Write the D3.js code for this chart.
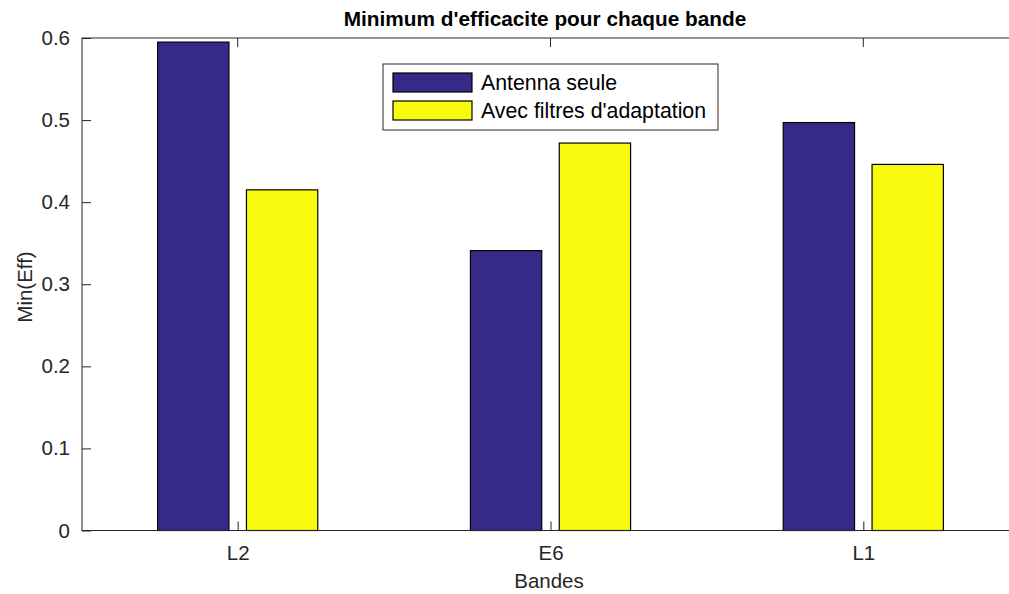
<!DOCTYPE html>
<html><head><meta charset="utf-8">
<script src="https://cdn.jsdelivr.net/npm/d3@7"></script>
<style>body{margin:0;background:#fff;}svg{display:block;font-family:"Liberation Sans",Arial,sans-serif;}</style>
</head><body>
<svg id="c" width="1009" height="594"></svg>
<script>
const categories = ["L2", "E6", "L1"];
const seriesNames = ["Antenna seule", "Avec filtres d'adaptation"];
const antennaSeule = [0.595, 0.341, 0.497];
const avecFiltres = [0.415, 0.472, 0.446];
const yTicks = [0, 0.1, 0.2, 0.3, 0.4, 0.5, 0.6];
const colors = ["#352a87", "#f9fb0e"];

const svg = d3.select("#c");
const L = 82, T = 38, B = 530.5;
const x = d3.scaleLinear().domain([0.5, 3.5]).range([81.3, 1019.7]);
const y = d3.scaleLinear().domain([0, 0.6]).range([B, T]);
const R = x(3.5);
const bw = 0.228, off = 0.142;
const series = [antennaSeule, avecFiltres];
const FF = "Liberation Sans, Arial, sans-serif";

const g = svg.append("g");
series.forEach((vals, si) => {
  g.selectAll(null).data(vals).enter().append("rect")
    .attr("x", (d, i) => x(i + 1 + (si === 0 ? -off : off) - bw / 2))
    .attr("width", x(bw) - x(0))
    .attr("y", d => y(d))
    .attr("height", d => y(0) - y(d))
    .attr("fill", colors[si]).attr("stroke", "#000").attr("stroke-width", 1.2);
});

// axes box
const axc = "#262626";
svg.append("rect").attr("x", L).attr("y", T).attr("width", R - L).attr("height", B - T)
  .attr("fill", "none").attr("stroke", axc).attr("stroke-width", 1);

// y axis
const yAxis = d3.axisLeft(y).tickValues(yTicks).tickSize(-9).tickPadding(12).tickFormat(d3.format("~g"));
const ya = svg.append("g").attr("transform", `translate(${L},0)`).call(yAxis);
ya.attr("font-size", 20.5).attr("font-family", FF);
ya.select(".domain").remove();
ya.selectAll("line").attr("stroke", axc);
ya.selectAll("text").attr("fill", axc);

// x axis
const xAxis = d3.axisBottom(x).tickValues([1, 2, 3]).tickSize(-9).tickPadding(15).tickFormat(d => categories[d - 1]);
const xa = svg.append("g").attr("transform", `translate(0,${B})`).call(xAxis);
xa.attr("font-size", 20.5).attr("font-family", FF);
xa.select(".domain").remove();
xa.selectAll("line").attr("stroke", axc);
xa.selectAll("text").attr("fill", axc);
// top ticks
svg.selectAll(null).data([1, 2, 3]).enter().append("line")
  .attr("x1", d => x(d)).attr("x2", d => x(d)).attr("y1", T).attr("y2", T + 9).attr("stroke", axc);

// labels
svg.append("text").attr("x", 545).attr("y", 26).attr("text-anchor", "middle")
  .attr("font-size", 20.8).attr("font-weight", "bold").attr("fill", "#000").text("Minimum d'efficacite pour chaque bande");
svg.append("text").attr("x", 549).attr("y", 588).attr("text-anchor", "middle")
  .attr("font-size", 20.5).attr("fill", axc).text("Bandes");
svg.append("text").attr("transform", "translate(32,287) rotate(-90)").attr("text-anchor", "middle")
  .attr("font-size", 20.5).attr("fill", axc).text("Min(Eff)");

// legend
const lg = svg.append("g");
lg.append("rect").attr("x", 383).attr("y", 64).attr("width", 335).attr("height", 66)
  .attr("fill", "#fff").attr("stroke", axc).attr("stroke-width", 1);
seriesNames.forEach((n, i) => {
  lg.append("rect").attr("x", 393).attr("y", 73 + i * 28).attr("width", 79).attr("height", 19)
    .attr("fill", colors[i]).attr("stroke", "#000").attr("stroke-width", 1.2);
  lg.append("text").attr("x", 481).attr("y", 90 + i * 28).attr("font-size", 21.3).attr("fill", "#000").text(n);
});
</script>
</body></html>
